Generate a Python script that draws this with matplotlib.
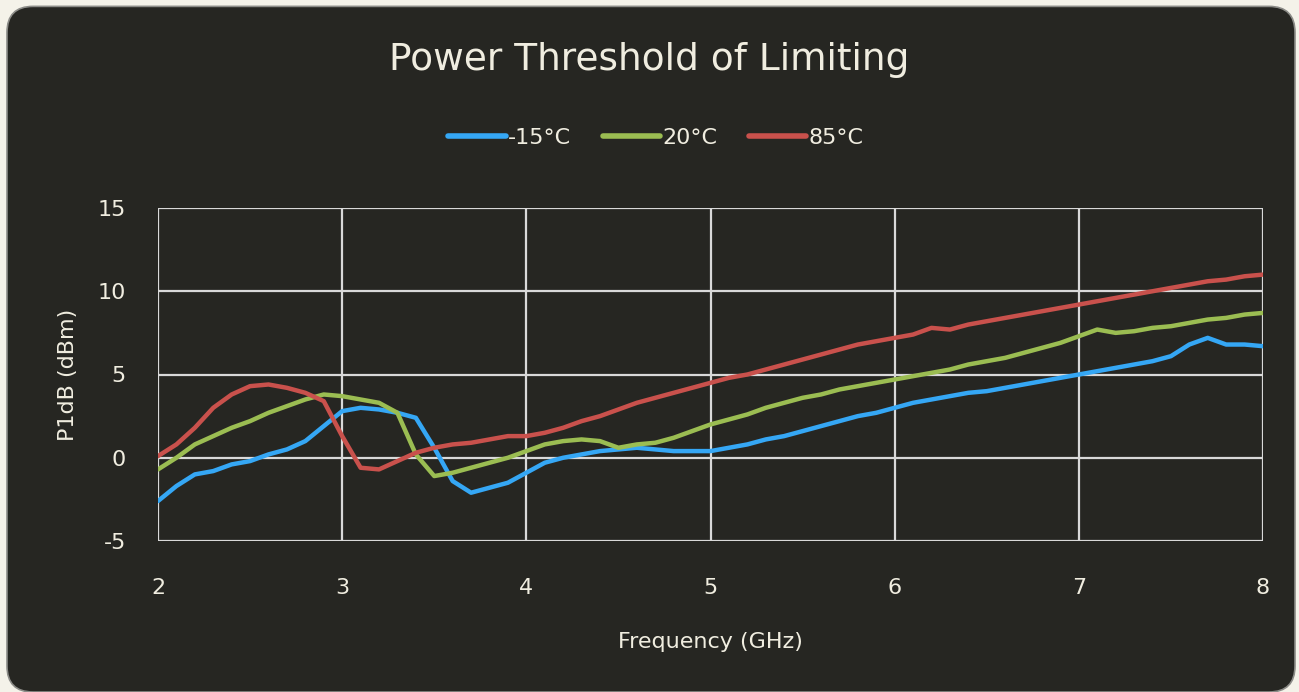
import numpy as np
import matplotlib
matplotlib.use('Agg')
import matplotlib.pyplot as plt
from matplotlib.patches import FancyBboxPatch

# frequency in GHz, 0.1 GHz step
freq = [round(2.0 + 0.1 * i, 1) for i in range(61)]

p1db_m15 = [-2.6, -1.7, -1.0, -0.8, -0.4, -0.2, 0.2, 0.5, 1.0, 1.9,
            2.8, 3.0, 2.9, 2.7, 2.4, 0.6, -1.4, -2.1, -1.8, -1.5,
            -0.9, -0.3, 0.0, 0.2, 0.4, 0.5, 0.6, 0.5, 0.4, 0.4,
            0.4, 0.6, 0.8, 1.1, 1.3, 1.6, 1.9, 2.2, 2.5, 2.7,
            3.0, 3.3, 3.5, 3.7, 3.9, 4.0, 4.2, 4.4, 4.6, 4.8,
            5.0, 5.2, 5.4, 5.6, 5.8, 6.1, 6.8, 7.2, 6.8, 6.8, 6.7]

p1db_20 = [-0.7, 0.0, 0.8, 1.3, 1.8, 2.2, 2.7, 3.1, 3.5, 3.8,
           3.7, 3.5, 3.3, 2.7, 0.2, -1.1, -0.9, -0.6, -0.3, 0.0,
           0.4, 0.8, 1.0, 1.1, 1.0, 0.6, 0.8, 0.9, 1.2, 1.6,
           2.0, 2.3, 2.6, 3.0, 3.3, 3.6, 3.8, 4.1, 4.3, 4.5,
           4.7, 4.9, 5.1, 5.3, 5.6, 5.8, 6.0, 6.3, 6.6, 6.9,
           7.3, 7.7, 7.5, 7.6, 7.8, 7.9, 8.1, 8.3, 8.4, 8.6, 8.7]

p1db_85 = [0.1, 0.8, 1.8, 3.0, 3.8, 4.3, 4.4, 4.2, 3.9, 3.4,
           1.3, -0.6, -0.7, -0.2, 0.3, 0.6, 0.8, 0.9, 1.1, 1.3,
           1.3, 1.5, 1.8, 2.2, 2.5, 2.9, 3.3, 3.6, 3.9, 4.2,
           4.5, 4.8, 5.0, 5.3, 5.6, 5.9, 6.2, 6.5, 6.8, 7.0,
           7.2, 7.4, 7.8, 7.7, 8.0, 8.2, 8.4, 8.6, 8.8, 9.0,
           9.2, 9.4, 9.6, 9.8, 10.0, 10.2, 10.4, 10.6, 10.7, 10.9, 11.0]

series = [("-15°C", p1db_m15, "#35a7f5"),
          ("20°C", p1db_20, "#9bbd52"),
          ("85°C", p1db_85, "#c9514c")]

txt = "#f0ede0"
bg = "#262622"

plt.rcParams['font.family'] = ['DejaVu Sans']
plt.rcParams['axes.unicode_minus'] = False

fig = plt.figure(figsize=(12.99, 6.92), dpi=100)
fig.patch.set_facecolor("#f4f2e9")
card = FancyBboxPatch((7 / 1299, 0.0), 1288 / 1299, 1 - 5 / 692 - 0.002,
                      boxstyle="round,pad=0,rounding_size=0.02",
                      transform=fig.transFigure, facecolor=bg, zorder=-10,
                      edgecolor="#8c8c88", linewidth=1.2, mutation_aspect=1299 / 692)
fig.patches.append(card)

ax = fig.add_axes([158 / 1299, 1 - 541 / 692, (1263 - 158) / 1299, (541 - 208) / 692])
ax.set_facecolor(bg)

for name, vals, col in series:
    ax.plot(freq, vals, color=col, lw=3.2, label=name, solid_capstyle='round')

ax.set_xlim(2, 8)
ax.set_ylim(-5, 15)
ax.set_xticks(np.arange(2, 9, 1))
ax.set_yticks(np.arange(-5, 16, 5))
ax.grid(True, color="#d9d9d9", lw=1.6)
ax.set_axisbelow(True)
for s in ax.spines.values():
    s.set_visible(False)
ax.tick_params(length=0, colors=txt, labelsize=16)
ax.tick_params(axis='x', pad=27)
ax.tick_params(axis='y', pad=23)
for lab in ax.get_yticklabels():
    lab.set_horizontalalignment('right')

ax.set_xlabel("Frequency (GHz)", color=txt, fontsize=16, labelpad=24)
ax.set_ylabel("P1dB (dBm)", color=txt, fontsize=16, labelpad=14)

fig.text(0.5, 1 - 60 / 692, "Power Threshold of Limiting", ha='center', va='center',
         color=txt, fontsize=27)

leg = fig.legend(loc='center', bbox_to_anchor=(0.505, 1 - 138 / 692), ncol=3,
                 frameon=False, fontsize=16, handlelength=2.6, handletextpad=0.1,
                 columnspacing=1.4, labelcolor=txt)
for h in leg.get_lines():
    h.set_linewidth(4)

fig.savefig("out.png", dpi=100, facecolor=fig.get_facecolor())
